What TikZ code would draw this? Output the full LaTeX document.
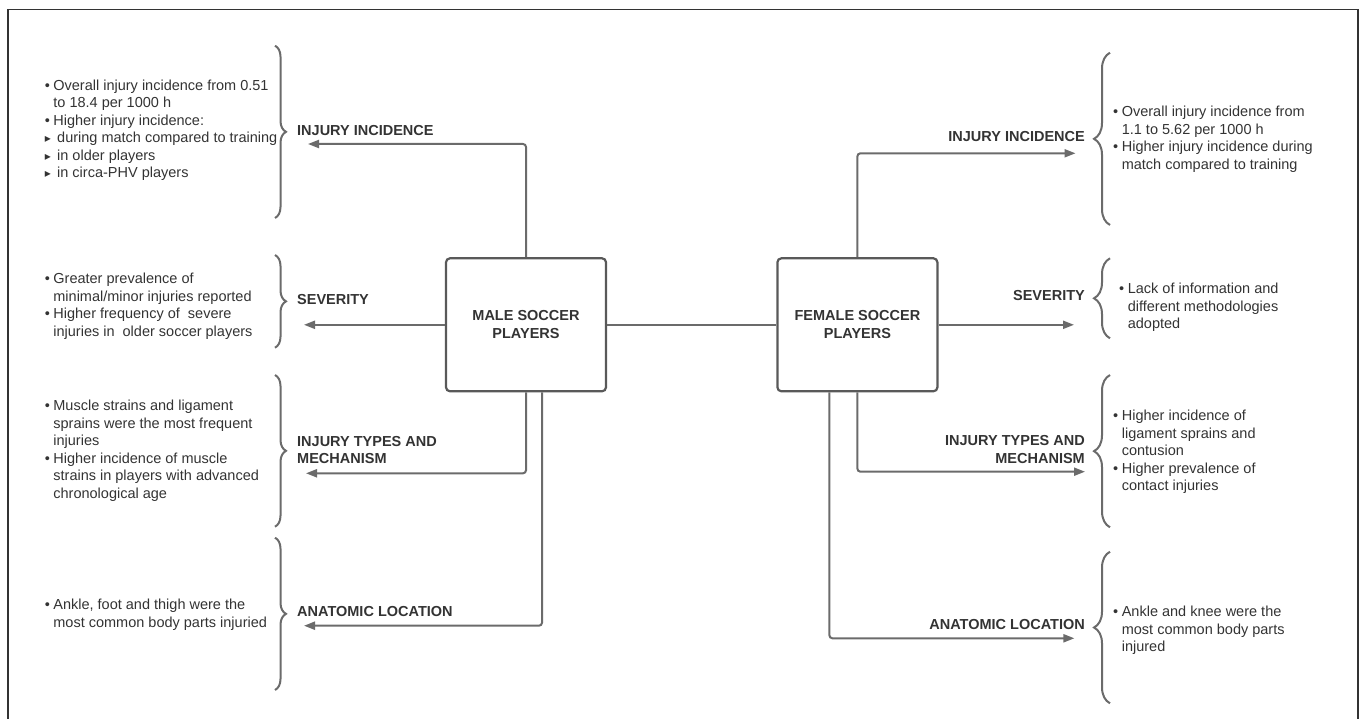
\documentclass[tikz,border=0pt]{standalone}
\usepackage{fontspec}
\setmainfont{Liberation Sans}
\newfontfamily\symfont{DejaVu Sans}
\usepackage{xcolor}
\usetikzlibrary{arrows.meta}
\usetikzlibrary{decorations.pathreplacing}
\definecolor{inkgray}{HTML}{333333}
\definecolor{linegray}{HTML}{6B6B6B}
\definecolor{boxgray}{HTML}{595959}
\newcommand{\bpt}{\makebox[8.6pt][l]{•}}
\newcommand{\bsp}{\makebox[8.6pt][l]{}}
\newcommand{\tpt}{\makebox[12.4pt][l]{{\symfont\fontsize{12}{12}\selectfont ▸}}}

\begin{document}
\begin{tikzpicture}[x=1pt,y=-1pt,
  conn/.style={draw=linegray,line width=2pt,rounded corners=3pt,-{Triangle[length=11pt,width=8pt]}},
  grp/.style={draw=linegray,line width=2pt,decorate,decoration={brace,amplitude=11pt}},
  grpR/.style={draw=linegray,line width=2pt,decorate,decoration={brace,amplitude=16pt}},
  playerbox/.style={draw=boxgray,line width=2.2pt,rounded corners=4pt,minimum width=160pt,minimum height=133pt,
    align=center,text=inkgray,font=\fontsize{14.5}{18.4}\selectfont\bfseries},
  hdr/.style={inner sep=0pt,text=inkgray,font=\fontsize{14.5}{17.3}\selectfont\bfseries},
  note/.style={inner sep=0pt,anchor=west,align=left,text=inkgray,font=\fontsize{14.5}{17.5}\selectfont}]
  \useasboundingbox (0,0) rectangle (1367,719);
  \draw[inkgray,line width=1.5pt] (8,725) -- (8,9.5) -- (1358,9.5) -- (1358,725);

  \node[playerbox] (male) at (526,324.8) {MALE SOCCER\\PLAYERS};
  \node[playerbox] (female) at (857.4,324.8) {FEMALE SOCCER\\PLAYERS};
  \draw[linegray,line width=2pt] (male.east) -- (female.west);

  % male side
  \node[hdr,anchor=west] (mIncLbl) at (297,130.7) {INJURY INCIDENCE};
  \node[hdr,anchor=west] (mSevLbl) at (297,300) {SEVERITY};
  \node[hdr,anchor=west,align=left] (mTypLbl) at (297,449.7) {INJURY TYPES AND\\MECHANISM};
  \node[hdr,anchor=west] (mLocLbl) at (297,611.7) {ANATOMIC LOCATION};

  \coordinate (mIncEnd) at (308,144);
  \coordinate (mSevEnd) at (304,324.8);
  \coordinate (mTypEnd) at (306,473.3);
  \coordinate (mLocEnd) at (304,625.7);
  \draw[conn] (male.north) |- (mIncEnd);
  \draw[conn] (male.west) -- (mSevEnd);
  \draw[conn] (male.south) |- (mTypEnd);
  \draw[conn] ([xshift=16pt]male.south) |- (mLocEnd);

  \draw[grp] (275,45.7) -- (275,218);
  \draw[grp] (275,255) -- (275,347.7);
  \draw[grp] (275,375) -- (275,526.7);
  \draw[grp] (275,537.7) -- (275,690);

  \node[note] (mIncTxt) at (44.6,130.4) {\bpt Overall injury incidence from 0.51\\
    \bsp to 18.4 per 1000 h\\
    \bpt Higher injury incidence:\\
    \tpt during match compared to training\\
    \tpt in older players\\
    \tpt in circa-PHV players};
  \node[note] (mSevTxt) at (44.6,306) {\bpt Greater prevalence of\\
    \bsp minimal/minor injuries reported\\
    \bpt Higher frequency of\ \ severe\\
    \bsp injuries in\ \ older soccer players};
  \node[note] (mTypTxt) at (44.6,450.5) {\bpt Muscle strains and ligament\\
    \bsp sprains were the most frequent\\
    \bsp injuries\\
    \bpt Higher incidence of muscle\\
    \bsp strains in players with advanced\\
    \bsp chronological age};
  \node[note] (mLocTxt) at (44.6,614.5) {\bpt Ankle, foot and thigh were the\\
    \bsp most common body parts injuried};

  % female side
  \node[hdr,anchor=east] (fIncLbl) at (1085,136.7) {INJURY INCIDENCE};
  \node[hdr,anchor=east] (fSevLbl) at (1085,296) {SEVERITY};
  \node[hdr,anchor=east,align=right] (fTypLbl) at (1085,449.5) {INJURY TYPES AND\\MECHANISM};
  \node[hdr,anchor=east] (fLocLbl) at (1085,625) {ANATOMIC LOCATION};

  \coordinate (fIncEnd) at (1075.5,153.3);
  \coordinate (fSevEnd) at (1074,324.8);
  \coordinate (fTypEnd) at (1085,471.7);
  \coordinate (fLocEnd) at (1074.4,638.3);
  \draw[conn] (female.north) |- (fIncEnd);
  \draw[conn] (female.east) -- (fSevEnd);
  \draw[conn] (female.south) |- (fTypEnd);
  \draw[conn] ([xshift=-28pt]female.south) |- (fLocEnd);

  \draw[grpR] (1110,225) -- (1110,52.7);
  \draw[grpR] (1110,338.3) -- (1110,258.3);
  \draw[grpR] (1110,527.3) -- (1110,375);
  \draw[grpR] (1110,703.3) -- (1110,551.7);

  \node[note] (fIncTxt) at (1113,139.2) {\bpt Overall injury incidence from\\
    \bsp 1.1 to 5.62 per 1000 h\\
    \bpt Higher injury incidence during\\
    \bsp match compared to training};
  \node[note] (fSevTxt) at (1119,307.5) {\bpt Lack of information and\\
    \bsp different methodologies\\
    \bsp adopted};
  \node[note] (fTypTxt) at (1113,452.2) {\bpt Higher incidence of\\
    \bsp ligament sprains and\\
    \bsp contusion\\
    \bpt Higher prevalence of\\
    \bsp contact injuries};
  \node[note] (fLocTxt) at (1113,630.5) {\bpt Ankle and knee were the\\
    \bsp most common body parts\\
    \bsp injured};
\end{tikzpicture}
\end{document}
